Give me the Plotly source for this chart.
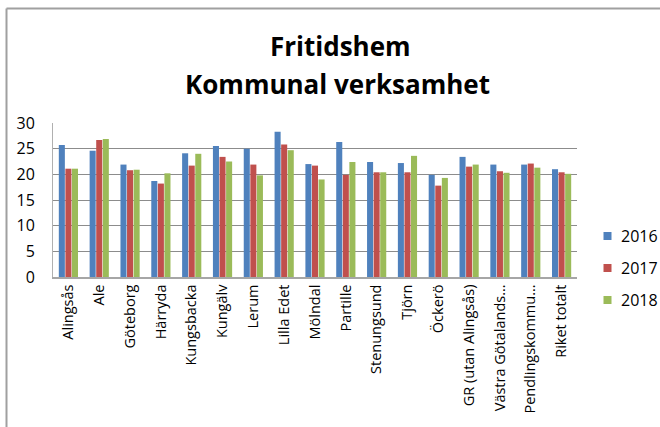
import plotly.graph_objects as go

categories = ["Alingsås", "Ale", "Göteborg", "Härryda", "Kungsbacka", "Kungälv", "Lerum",
              "Lilla Edet", "Mölndal", "Partille", "Stenungsund", "Tjörn", "Öckerö",
              "GR (utan Alingsås)", "Västra Götalands…", "Pendlingskommu…", "Riket totalt"]
v2016 = [25.7, 24.6, 21.9, 18.7, 24.1, 25.5, 25.0, 28.3, 22.0, 26.3, 22.4, 22.2, 19.9, 23.4, 21.9, 21.9, 21.0]
v2017 = [21.1, 26.7, 20.8, 18.2, 21.7, 23.4, 21.9, 25.8, 21.7, 19.9, 20.4, 20.4, 17.8, 21.5, 20.6, 22.1, 20.4]
v2018 = [21.1, 26.9, 20.9, 20.2, 24.0, 22.5, 19.8, 24.7, 19.0, 22.4, 20.4, 23.6, 19.3, 21.9, 20.3, 21.3, 20.1]
series = [("2016", v2016, "#4F81BD"), ("2017", v2017, "#C0504D"), ("2018", v2018, "#9BBB59")]
yticks = [0, 5, 10, 15, 20, 25, 30]

W, H = 660, 427
L, R, T, B = 53, 83, 123, 150
pw, ph = W - L - R, H - T - B

fig = go.Figure()
for name, vals, col in series:
    fig.add_trace(go.Bar(x=categories, y=vals, name=name, marker_color=col,
                         marker_line_width=0, showlegend=False))

def px2x(px):
    return (px - L) / pw

def py2y(py):
    return (H - B - py) / ph

annotations = [
    dict(text="<b>Fritidshem</b>", x=px2x(340), y=py2y(46), xref="paper", yref="paper",
         showarrow=False, font=dict(size=26, family="Open Sans"), xanchor="center", yanchor="middle"),
    dict(text="<b>Kommunal verksamhet</b>", x=px2x(337), y=py2y(84), xref="paper", yref="paper",
         showarrow=False, font=dict(size=26, family="Open Sans"), xanchor="center", yanchor="middle"),
]
shapes = [
    dict(type="line", xref="paper", yref="paper", x0=px2x(6.5), x1=px2x(700),
         y0=py2y(8.5), y1=py2y(8.5), line=dict(color="#A0A0A0", width=2)),
    dict(type="line", xref="paper", yref="paper", x0=px2x(6.5), x1=px2x(6.5),
         y0=py2y(8.5), y1=py2y(480), line=dict(color="#A0A0A0", width=2)),
]
# legend (drawn manually so the plot area is not shrunk)
for i, (name, vals, col) in enumerate(series):
    cy = 236 + 32 * i
    shapes.append(dict(type="rect", xref="paper", yref="paper",
                       x0=px2x(603.5), x1=px2x(611.5), y0=py2y(cy - 4), y1=py2y(cy + 4),
                       fillcolor=col, line=dict(width=0)))
    annotations.append(dict(text=name, x=px2x(619), y=py2y(cy), xref="paper", yref="paper",
                            showarrow=False, font=dict(size=16, family="Open Sans"),
                            xanchor="left", yanchor="middle"))

fig.update_layout(
    width=W, height=H,
    margin=dict(l=L, r=R, t=T, b=B),
    paper_bgcolor="white", plot_bgcolor="white",
    barmode="group", bargap=0.36, bargroupgap=0.08,
    font=dict(family="Open Sans", color="#000000"),
    showlegend=False,
    xaxis=dict(tickangle=-90, tickfont=dict(size=14.5), showline=True, linecolor="#A6A6A6",
               linewidth=1.5, ticks="", showgrid=False),
    yaxis=dict(range=[0, 30], tickvals=yticks, tickfont=dict(size=16),
               showgrid=True, gridcolor="#8C8C8C", gridwidth=1, zeroline=False,
               showline=True, linecolor="#B0B0B0", linewidth=1, ticks="", ticklabelstandoff=14),
    annotations=annotations,
    shapes=shapes,
)

fig.write_html("out.html", config={"displayModeBar": False},
               post_script="document.body.style.margin='0';document.body.style.overflow='hidden';")
